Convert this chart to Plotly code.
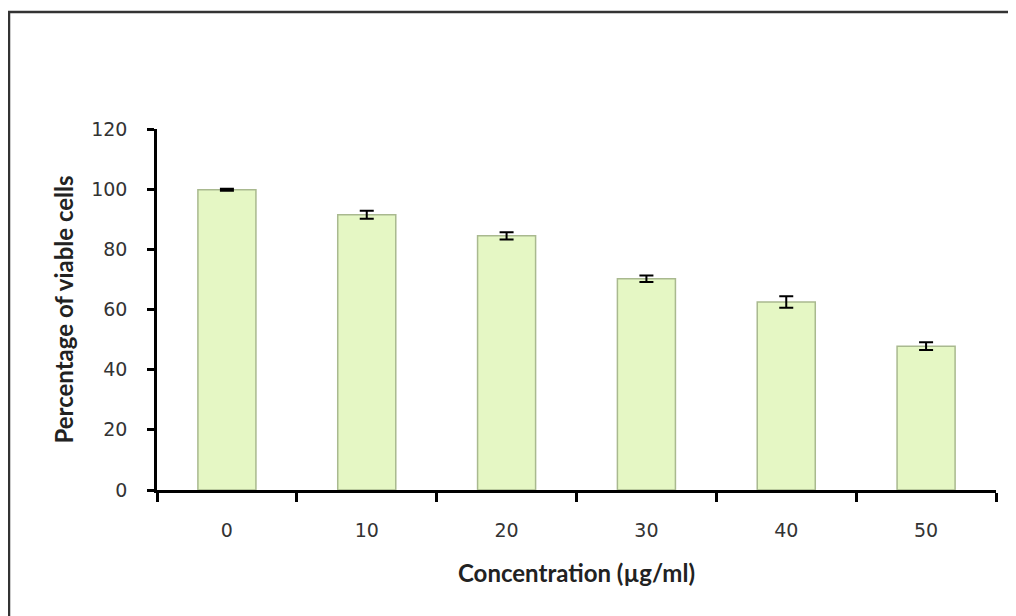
import plotly.graph_objects as go

categories = ["0", "10", "20", "30", "40", "50"]
viability = [99.8, 91.5, 84.5, 70.2, 62.5, 47.8]
errors = [0.3, 1.3, 1.2, 1.1, 1.9, 1.3]
y_ticks = [0, 20, 40, 60, 80, 100, 120]

fig = go.Figure()
fig.add_trace(go.Bar(
    x=categories,
    y=viability,
    error_y=dict(type="data", array=errors, visible=True, color="black",
                 thickness=2, width=7),
    marker=dict(color="#e5f7c4", line=dict(color="#a9b98f", width=1.5)),
))

title_font = dict(family="Lato", size=24, color="#222", weight="bold")

fig.update_layout(
    width=1008, height=608,
    margin=dict(l=149, r=20, t=121, b=126),
    paper_bgcolor="white", plot_bgcolor="white",
    bargap=0.585,
    showlegend=False,
    font=dict(family="DejaVu Sans", size=19, color="#333"),
    shapes=[dict(type="rect", xref="paper", yref="paper",
                 x0=-148/839, x1=1.05, y0=-0.4, y1=(490-12)/361,
                 line=dict(color="#333", width=2.5), fillcolor="rgba(0,0,0,0)",
                 layer="above")],
)
fig.update_xaxes(
    type="category", tickson="boundaries",
    showline=True, linecolor="black", linewidth=2.5,
    ticks="outside", ticklen=9, tickwidth=2.5, tickcolor="black",
    ticklabelstandoff=21,
    showgrid=False, zeroline=False,
    title=dict(text="Concentration (µg/ml)", font=title_font, standoff=26),
)
fig.update_yaxes(
    range=[0, 120], tickvals=y_ticks,
    showline=True, linecolor="black", linewidth=2.5,
    ticks="outside", ticklen=7, tickwidth=2.5, tickcolor="black",
    ticklabelstandoff=16,
    showgrid=False, zeroline=False,
    title=dict(text="Percentage of viable cells", font=title_font, standoff=11),
)

fig.write_html("out.html")
